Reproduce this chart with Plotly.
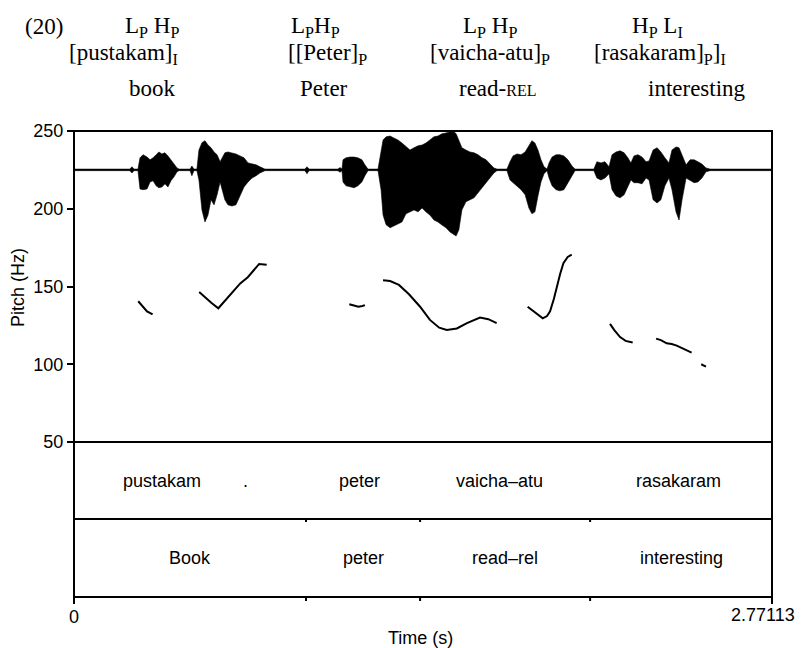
import plotly.graph_objects as go

DURATION = 2.77113

# ---------------- waveform envelope (arbitrary amplitude units) ----------------
wave_t = [0.000, 0.222, 0.230, 0.238, 0.254, 0.262, 0.274, 0.290, 0.302, 0.314, 0.326, 0.337, 0.349, 0.361,
          0.373, 0.385, 0.397, 0.409, 0.417, 0.461, 0.468, 0.476, 0.488, 0.496, 0.508, 0.520, 0.532, 0.544,
          0.556, 0.568, 0.580, 0.588, 0.599, 0.611, 0.627, 0.643, 0.659, 0.675, 0.691, 0.707, 0.723, 0.738,
          0.758, 0.917, 0.925, 0.933, 1.048, 1.056, 1.064, 1.068, 1.080, 1.096, 1.112, 1.127, 1.143, 1.155,
          1.167, 1.207, 1.219, 1.227, 1.239, 1.255, 1.270, 1.286, 1.302, 1.318, 1.334, 1.350, 1.366, 1.382,
          1.397, 1.413, 1.429, 1.445, 1.461, 1.477, 1.493, 1.505, 1.517, 1.528, 1.540, 1.556, 1.572, 1.588,
          1.604, 1.620, 1.636, 1.652, 1.667, 1.679, 1.719, 1.731, 1.743, 1.759, 1.775, 1.791, 1.806, 1.818,
          1.830, 1.842, 1.854, 1.866, 1.878, 1.886, 1.898, 1.914, 1.929, 1.945, 1.961, 1.977, 1.989, 2.064,
          2.076, 2.092, 2.108, 2.124, 2.136, 2.152, 2.168, 2.184, 2.199, 2.211, 2.223, 2.239, 2.255, 2.271,
          2.283, 2.299, 2.315, 2.330, 2.346, 2.362, 2.374, 2.390, 2.402, 2.414, 2.430, 2.446, 2.462, 2.477,
          2.493, 2.509, 2.525, 2.771]
wave_upper = [0.02, 0.02, 0.08, 0.02, 0.02, 0.31, 0.39, 0.33, 0.26, 0.31, 0.39, 0.46, 0.41, 0.44,
              0.36, 0.26, 0.18, 0.05, 0.02, 0.02, 0.10, 0.02, 0.02, 0.51, 0.70, 0.75, 0.64, 0.57,
              0.46, 0.39, 0.21, 0.31, 0.44, 0.46, 0.44, 0.41, 0.36, 0.31, 0.18, 0.15, 0.13, 0.08,
              0.02, 0.02, 0.08, 0.02, 0.02, 0.06, 0.02, 0.26, 0.31, 0.33, 0.33, 0.31, 0.26, 0.13,
              0.02, 0.02, 0.51, 0.77, 0.85, 0.87, 0.82, 0.77, 0.69, 0.59, 0.51, 0.57, 0.62, 0.64,
              0.69, 0.77, 0.85, 0.87, 0.93, 0.95, 0.98, 1.00, 0.93, 0.77, 0.57, 0.51, 0.46, 0.44,
              0.39, 0.31, 0.26, 0.15, 0.05, 0.02, 0.02, 0.21, 0.36, 0.41, 0.39, 0.46, 0.64, 0.75,
              0.69, 0.51, 0.26, 0.08, 0.02, 0.18, 0.33, 0.39, 0.39, 0.36, 0.26, 0.10, 0.02, 0.02,
              0.21, 0.18, 0.21, 0.08, 0.39, 0.46, 0.49, 0.44, 0.31, 0.18, 0.36, 0.39, 0.33, 0.21,
              0.23, 0.51, 0.57, 0.46, 0.31, 0.18, 0.51, 0.59, 0.57, 0.39, 0.13, 0.26, 0.26, 0.21,
              0.15, 0.05, 0.02, 0.02]
wave_lower = [-0.02, -0.02, -0.08, -0.02, -0.02, -0.49, -0.51, -0.49, -0.31, -0.28, -0.41, -0.46, -0.44, -0.36,
              -0.44, -0.28, -0.18, -0.05, -0.02, -0.02, -0.15, -0.02, -0.02, -0.26, -1.03, -1.34, -1.16, -0.77,
              -0.90, -0.64, -0.31, -0.51, -0.77, -0.90, -0.93, -0.90, -0.67, -0.44, -0.31, -0.21, -0.15, -0.08,
              -0.02, -0.02, -0.10, -0.02, -0.02, -0.06, -0.02, -0.31, -0.41, -0.44, -0.46, -0.41, -0.31, -0.15,
              -0.02, -0.02, -0.51, -1.16, -1.41, -1.49, -1.44, -1.39, -1.34, -1.13, -1.08, -1.03, -1.08, -0.98,
              -1.08, -1.16, -1.29, -1.34, -1.42, -1.49, -1.60, -1.65, -1.70, -1.54, -1.03, -0.82, -0.77, -0.72,
              -0.59, -0.46, -0.36, -0.21, -0.08, -0.02, -0.02, -0.26, -0.33, -0.41, -0.51, -0.64, -0.98, -1.13,
              -1.08, -0.67, -0.31, -0.10, -0.02, -0.21, -0.41, -0.51, -0.54, -0.51, -0.33, -0.13, -0.02, -0.02,
              -0.21, -0.26, -0.21, -0.10, -0.51, -0.67, -0.72, -0.64, -0.41, -0.26, -0.33, -0.33, -0.36, -0.21,
              -0.26, -0.77, -0.85, -0.77, -0.41, -0.21, -0.51, -1.08, -1.29, -0.77, -0.21, -0.26, -0.33, -0.31,
              -0.21, -0.05, -0.02, -0.02]

# ---------------- pitch track (Hz), one list per voiced stretch ----------------
pitch_t_segments = [
    [0.255, 0.270, 0.290, 0.312],
    [0.497, 0.520, 0.545, 0.573, 0.600, 0.630, 0.660, 0.690, 0.715, 0.735, 0.765],
    [1.093, 1.110, 1.129, 1.145, 1.155],
    [1.227, 1.255, 1.290, 1.330, 1.374, 1.413, 1.450, 1.480, 1.520, 1.560, 1.612, 1.645, 1.678],
    [1.801, 1.830, 1.861, 1.878, 1.890, 1.905, 1.916, 1.930, 1.943, 1.960, 1.976],
    [2.128, 2.145, 2.168, 2.190, 2.218],
    [2.311, 2.330, 2.353, 2.373, 2.393, 2.420, 2.452],
    [2.490, 2.509],
]
pitch_hz_segments = [
    [140.5, 137.5, 134, 132],
    [146.5, 143, 139.5, 136, 141, 147, 152, 156, 161, 164.5, 164],
    [138.6, 138, 137, 137.5, 138],
    [154, 153.5, 151, 145, 137, 128.5, 123.5, 122, 123, 126.5, 130, 129, 126.5],
    [137, 133.5, 129.5, 131, 134, 142, 150, 158, 165, 169, 170.5],
    [126, 122, 117.5, 115, 114],
    [116.5, 115.5, 113.5, 113, 112, 110, 107.5],
    [100, 98.5],
]

# ---------------- TextGrid tiers ----------------
tier1_labels = ["pustakam", ".", "peter", "vaicha\u2013atu", "rasakaram"]
tier1_times = [0.349, 0.679, 1.135, 1.691, 2.398]
tier2_bounds = [0.0, 0.921, 1.374, 2.049, DURATION]
tier2_labels = ["Book", "peter", "read\u2013rel", "interesting"]

pitch_ticks = [50, 100, 150, 200, 250]
time_ticks = [0, DURATION]
time_tick_labels = ["0", "2.77113"]

# ---------------- header (example 20) ----------------
header_lines = [
    ["L<sub>P</sub> H<sub>P</sub>", "L<sub>P</sub>H<sub>P</sub>", "L<sub>P</sub> H<sub>P</sub>",
     "H<sub>P</sub> L<sub>I</sub>"],
    ["[pustakam]<sub>I</sub>", "[[Peter]<sub>P</sub>", "[vaicha-atu]<sub>P</sub>",
     "[rasakaram]<sub>P</sub>]<sub>I</sub>"],
    ["book", "Peter", "read-<span style='font-size:16px'>REL</span>", "interesting"],
]
header_x_px = [[151.5, 315.5, 489.5, 657.5], [123, 327, 490, 659.5], [152.5, 324, 497.5, 696.5]]
header_y_px = [27, 54, 88]

# ---------------- geometry (page pixels; the page body adds an 8px offset) ----------------
OFF = 8
W, H = 803 - OFF, 648 - OFF
PL, PR, PT, PB = 74, 772, 131, 597          # plot frame in page pixels
L, T = PL - OFF, PT - OFF
R, B = W - (PR - OFF), H - (PB - OFF)
PW, PH = PR - PL, PB - PT
split = (PB - 442) / PH
mid = (PB - 519) / PH


def fx(px):
    return (px - PL) / PW


def fy(py):
    return (PB - py) / PH


SANS = "Liberation Sans, Arial, sans-serif"
SERIF = "Liberation Serif, Times New Roman, serif"

fig = go.Figure()

fig.add_trace(go.Scatter(x=wave_t, y=wave_upper, mode="lines", line=dict(color="black", width=0.6),
                         xaxis="x", yaxis="y2", hoverinfo="skip", showlegend=False))
fig.add_trace(go.Scatter(x=wave_t, y=wave_lower, mode="lines", line=dict(color="black", width=0.6),
                         fill="tonexty", fillcolor="black",
                         xaxis="x", yaxis="y2", hoverinfo="skip", showlegend=False))

px_t, px_hz = [], []
for ts, hs in zip(pitch_t_segments, pitch_hz_segments):
    px_t += ts + [None]
    px_hz += hs + [None]
fig.add_trace(go.Scatter(x=px_t, y=px_hz, mode="lines", line=dict(color="black", width=2),
                         connectgaps=False, xaxis="x", yaxis="y", showlegend=False))

annotations = []
for lab, t in zip(tier1_labels, tier1_times):
    annotations.append(dict(x=t, y=1.5, xref="x", yref="y3", text=lab, showarrow=False,
                            font=dict(family=SANS, size=18, color="black")))
for i, lab in enumerate(tier2_labels):
    c = (tier2_bounds[i] + tier2_bounds[i + 1]) / 2
    annotations.append(dict(x=c, y=0.5, xref="x", yref="y3", text=lab, showarrow=False,
                            font=dict(family=SANS, size=18, color="black")))

annotations.append(dict(x=time_ticks[0], y=fy(617), xref="x", yref="paper", text=time_tick_labels[0],
                        showarrow=False, xanchor="center", yanchor="middle",
                        font=dict(family=SANS, size=18, color="black")))
annotations.append(dict(x=fx(797), y=fy(615), xref="paper", yref="paper",
                        text=time_tick_labels[1], showarrow=False, xanchor="right", yanchor="middle",
                        font=dict(family=SANS, size=18, color="black")))
annotations.append(dict(x=fx(420), y=fy(638), xref="paper", yref="paper",
                        text="Time (s)", showarrow=False, xanchor="center", yanchor="middle",
                        font=dict(family=SANS, size=18, color="black")))
annotations.append(dict(x=fx(18), y=fy(287), xref="paper", yref="paper",
                        text="Pitch (Hz)", textangle=-90, showarrow=False, xanchor="center",
                        yanchor="middle", font=dict(family=SANS, size=18, color="black")))

annotations.append(dict(x=fx(44), y=fy(header_y_px[0]), xref="paper",
                        yref="paper", text="(20)", showarrow=False, xanchor="center", yanchor="middle",
                        font=dict(family=SERIF, size=23, color="black")))
for li, line in enumerate(header_lines):
    for ci, txt in enumerate(line):
        annotations.append(dict(x=fx(header_x_px[li][ci]), y=fy(header_y_px[li]),
                                xref="paper", yref="paper",
                                text=txt, showarrow=False, xanchor="center", yanchor="middle",
                                font=dict(family=SERIF, size=23, color="black")))

shapes = [
    dict(type="rect", xref="paper", yref="paper", x0=0, x1=1, y0=0, y1=1,
         line=dict(color="black", width=2)),
    dict(type="line", xref="paper", yref="paper", x0=0, x1=1, y0=split, y1=split,
         line=dict(color="black", width=2)),
    dict(type="line", xref="paper", yref="paper", x0=0, x1=1, y0=mid, y1=mid,
         line=dict(color="black", width=2)),
]
for b in tier2_bounds[1:-1]:
    shapes.append(dict(type="line", xref="x", yref="paper", x0=b, x1=b, y0=mid, y1=mid - 3 / PH,
                       line=dict(color="black", width=2)))
    shapes.append(dict(type="line", xref="x", yref="paper", x0=b, x1=b, y0=0, y1=-4 / PH,
                       line=dict(color="black", width=2)))

fig.update_layout(
    width=W, height=H,
    margin=dict(l=L, r=R, t=T, b=B, pad=0, autoexpand=False),
    paper_bgcolor="white", plot_bgcolor="white",
    showlegend=False,
    xaxis=dict(range=[0, DURATION], anchor="y3", showgrid=False, zeroline=False, showline=False,
               tickvals=time_ticks, ticks="outside", ticklen=6, tickwidth=2, tickcolor="black",
               showticklabels=False),
    yaxis=dict(domain=[split, 1], range=[50, 250], anchor="x", showgrid=False, zeroline=False,
               showline=False, tickvals=pitch_ticks, ticks="outside", ticklen=6, tickwidth=2,
               tickcolor="black", tickfont=dict(family=SANS, size=18, color="black")),
    yaxis2=dict(overlaying="y", range=[-7, 1], visible=False, anchor="x"),
    yaxis3=dict(domain=[0, split], range=[0, 2], visible=False, anchor="x"),
    annotations=annotations,
    shapes=shapes,
)

fig.write_html("out.html")
